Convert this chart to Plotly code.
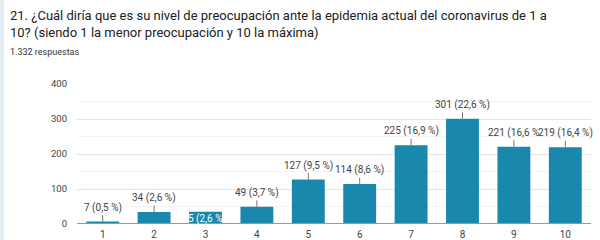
import plotly.graph_objects as go

categories = ["1", "2", "3", "4", "5", "6", "7", "8", "9", "10"]
values = [7, 34, 35, 49, 127, 114, 225, 301, 221, 219]
labels = ["7 (0,5 %)", "34 (2,6 %)", "5 (2,6 %", "49 (3,7 %)", "127 (9,5 %)",
          "114 (8,6 %)", "225 (16,9 %)", "301 (22,6 %)", "221 (16,6 %", "219 (16,4 %)"]
y_ticks = [0, 100, 200, 300, 400]

title_line1 = "21. ¿Cuál diría que es su nivel de preocupación ante la epidemia actual del coronavirus de 1 a"
title_line2 = "10? (siendo 1 la menor preocupación y 10 la máxima)"
subtitle = "1.332 respuestas"

BAR = "#1a88ad"
FONT = "Roboto, Arial, sans-serif"

fig = go.Figure()
fig.add_trace(go.Bar(x=categories, y=values, marker=dict(color=BAR, line=dict(width=0)),
                     width=0.64, hoverinfo="skip"))

annotations = []
for i, (v, t) in enumerate(zip(values, labels)):
    if i == 2:
        annotations.append(dict(x=i, y=v, xref="x", yref="y", text=t, showarrow=False,
                                yanchor="top", yshift=1,
                                font=dict(family=FONT, size=10, color="white")))
    else:
        annotations.append(dict(x=i, y=v, xref="x", yref="y", text=t, showarrow=True,
                                arrowhead=0, arrowwidth=1, arrowcolor="#777",
                                ax=0, ay=-14, standoff=0, startstandoff=0,
                                font=dict(family=FONT, size=10, color="#444")))

head = [
    dict(text=title_line1, y=15, size=13, color="#202124"),
    dict(text=title_line2, y=32, size=13, color="#202124"),
    dict(text=subtitle, y=52, size=9, color="#333"),
]
for h in head:
    annotations.append(dict(xref="paper", yref="paper", x=-(77 - 8) / 514,
                            y=1 + (84 - h["y"]) / 140, text=h["text"], showarrow=False,
                            xanchor="left", yanchor="middle",
                            font=dict(family=FONT, size=h["size"], color=h["color"])))

fig.update_layout(
    width=600, height=240,
    margin=dict(l=77, r=9, t=84, b=16, autoexpand=False),
    paper_bgcolor="white", plot_bgcolor="white",
    showlegend=False,
    annotations=annotations,
    xaxis=dict(type="category", range=[-0.5, 9.5], showgrid=False, showline=False,
               ticks="", automargin=False, ticklabelstandoff=3,
               tickfont=dict(family=FONT, size=10, color="#444"), fixedrange=True),
    yaxis=dict(range=[0, 400], tickvals=y_ticks, showgrid=True, gridcolor="#e4e4e4",
               gridwidth=1, zeroline=False, showline=False, ticks="", automargin=False,
               tickfont=dict(family=FONT, size=9.5, color="#444"), ticklabelstandoff=9,
               minor=dict(dtick=50, showgrid=True, gridcolor="#f3f3f3", gridwidth=1)),
)

# baseline at zero
fig.add_shape(type="line", xref="paper", yref="y", x0=0, x1=1, y0=0, y1=0,
              line=dict(color="#999", width=2))
# left light strip
fig.add_shape(type="rect", xref="paper", yref="paper", x0=-77/514, x1=-73/514,
              y0=-16/140, y1=1+84/140,
              fillcolor="#e2edf1", line=dict(width=0), layer="below")

fig.write_html("out.html")
